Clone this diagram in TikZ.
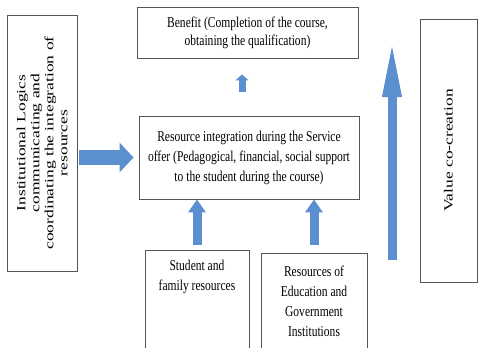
\documentclass[tikz,border=0pt]{standalone}
\usepackage{fontspec}
\setmainfont{Liberation Serif}[FakeStretch=0.77]
\newfontfamily\tallfont{Liberation Serif}[FakeStretch=1.4]
\usetikzlibrary{positioning,arrows.meta}
\definecolor{arrowblue}{RGB}{92,143,207}
\definecolor{boxgray}{RGB}{85,85,85}

\begin{document}
\begin{tikzpicture}[x=1pt,y=-1pt,
  box/.style={draw=boxgray,line width=0.9pt,inner sep=0pt},
  boxtext/.style={align=center,inner sep=0pt,font=\fontsize{15}{20}\selectfont},
  sidetext/.style={rotate=90,align=center,inner sep=0pt,font=\tallfont\fontsize{12.5}{14}\selectfont},
  fatarrow/.style={arrowblue,line width=15pt,-{Triangle[width=29pt,length=14pt]}},
  uparrow/.style={arrowblue,line width=9pt,-{Triangle[width=17pt,length=13pt]}},
  tallarrow/.style={arrowblue,line width=9pt,-{Triangle[width=17pt,length=59pt]}},
  tinyarrow/.style={arrowblue,line width=7pt,-{Triangle[width=13pt,length=6pt]}}]
  \path[use as bounding box,clip] (0,0) rectangle (480,348);
  % boxes
  \node[box,minimum width=70pt,minimum height=256pt] (logics) at (42,143) {};
  \node[box,minimum width=221pt,minimum height=51pt] (benefit) at (247.5,32.5) {};
  \node[box,minimum width=220pt,minimum height=83pt] (offer) at (249,157.5) {};
  \node[box,minimum width=104pt,minimum height=120pt,anchor=north west] (student) at (145,250) {};
  \node[box,minimum width=106pt,minimum height=120pt,anchor=north west] (institutions) at (261,253) {};
  \node[box,minimum width=57pt,minimum height=263pt] (cocreation) at (448.5,150.5) {};
  % texts
  \node[sidetext] at (logics.center)
    {Institutional Logics\\communicating and\\coordinating the integration of\\resources};
  \node[boxtext,font=\fontsize{15}{18}\selectfont] at (benefit.center)
    {Benefit (Completion of the course,\\obtaining the qualification)};
  \node[boxtext] at (offer.center)
    {Resource integration during the Service\\offer (Pedagogical, financial, social support\\to the student during the course)};
  \node[boxtext] at (197,277) {Student and\\family resources};
  \node[boxtext] at (314,301) {Resources of\\Education and\\Government\\Institutions};
  \node[sidetext] at (cocreation.center) {Value co-creation};
  % arrows
  \coordinate (valuefoot) at (392,260);
  \coordinate (valuetip) at (392,38);
  \draw[fatarrow,shorten <=2pt,shorten >=5pt] (logics.east|-offer.west) -- (offer.west);
  \draw[tinyarrow,shorten <=24pt,shorten >=16pt] (offer.north-|benefit.south) ++(-5.5,0) coordinate (tinyfoot)
    (tinyfoot) -- (tinyfoot|-benefit.south);
  \draw[uparrow,shorten <=5pt] (197,250) coordinate (studentfoot) -- (studentfoot|-offer.south);
  \draw[uparrow,shorten <=8pt] (314,253) coordinate (institutionfoot) -- (institutionfoot|-offer.south);
  \draw[tallarrow] (valuefoot) -- (valuetip);
\end{tikzpicture}
\end{document}
